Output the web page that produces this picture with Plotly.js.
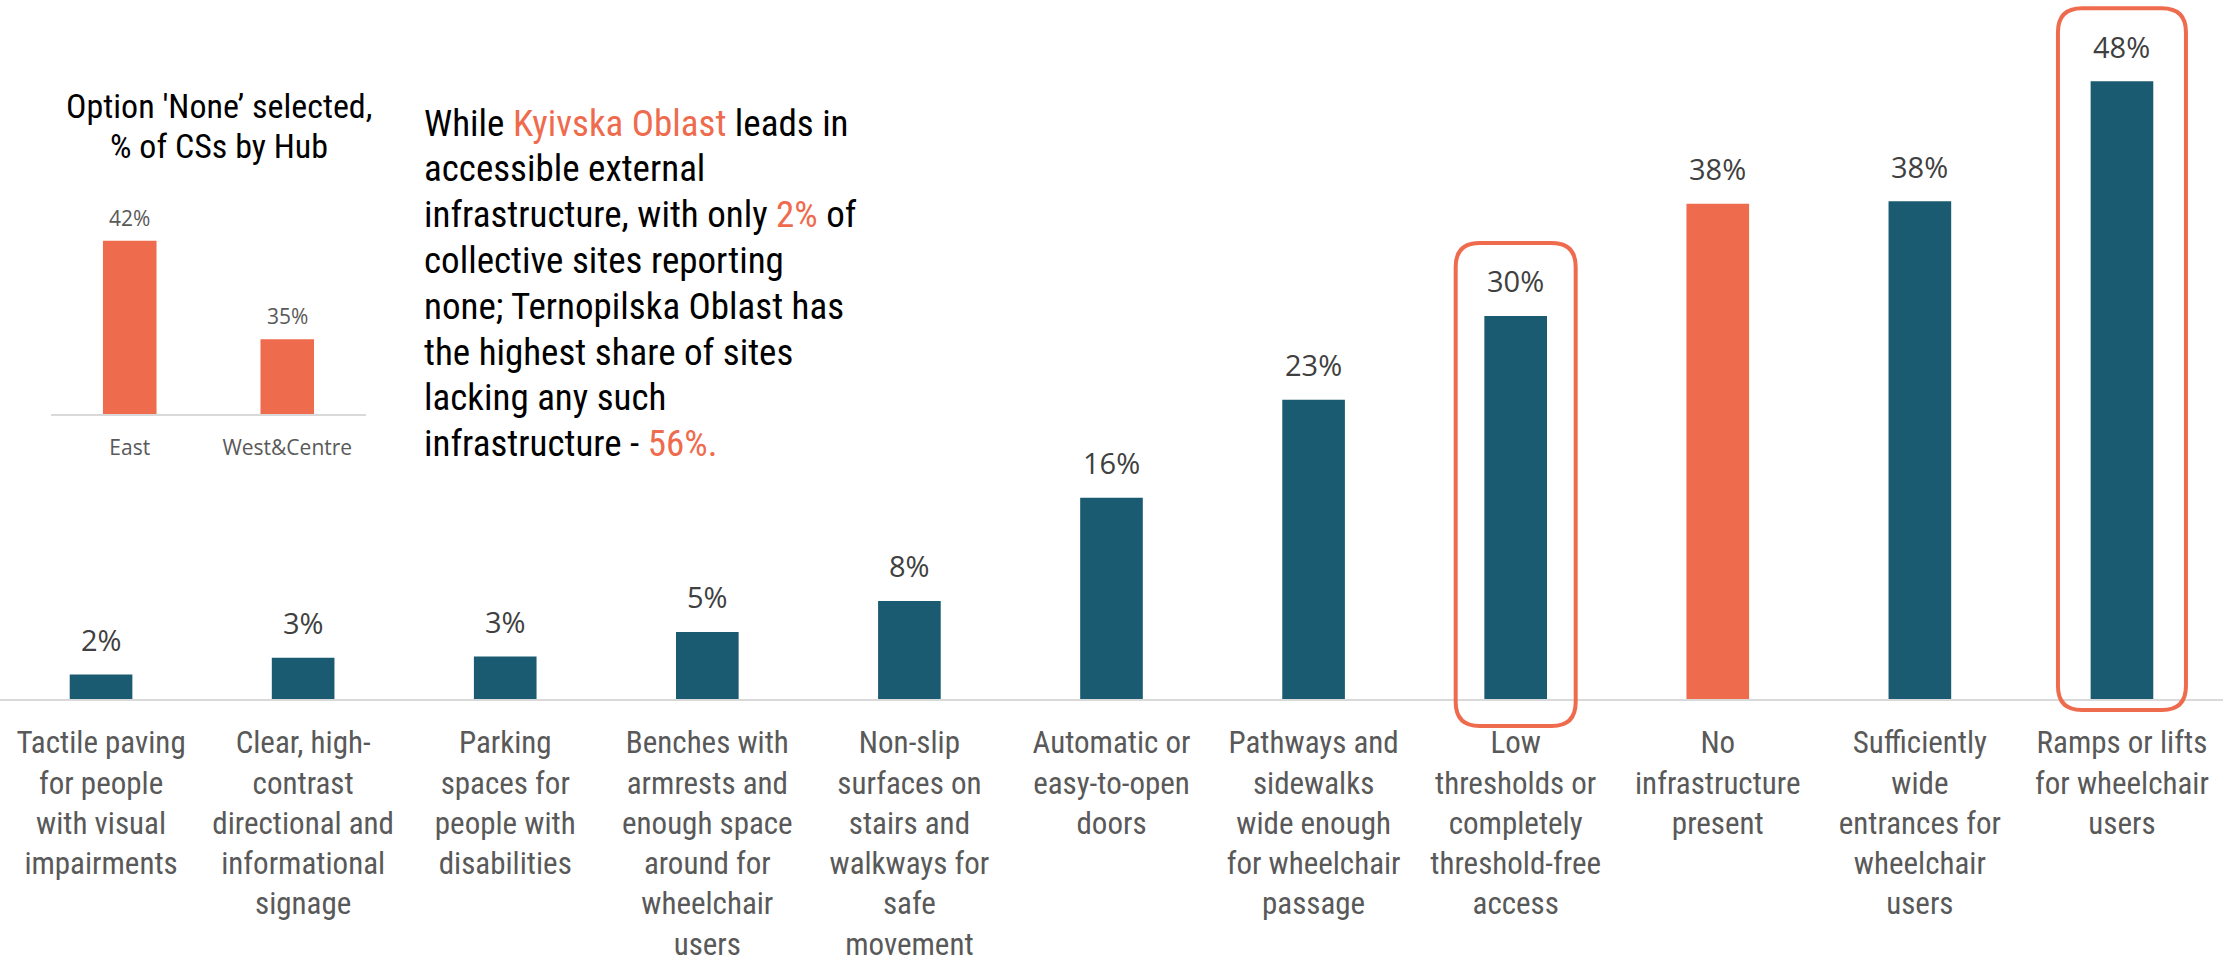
<!DOCTYPE html>
<html>
<head>
<meta charset="utf-8">
<script src="https://cdn.plot.ly/plotly-3.0.1.min.js"></script>
<style>
  html, body { margin: 0; padding: 0; background: #fff; }
  #chart { width: 2223px; height: 968px; }
</style>
</head>
<body>
<div id="chart"></div>
<script>
// ---------- DATA ----------
const categories = [
  "Tactile paving<br>for people<br>with visual<br>impairments",
  "Clear, high-<br>contrast<br>directional and<br>informational<br>signage",
  "Parking<br>spaces for<br>people with<br>disabilities",
  "Benches with<br>armrests and<br>enough space<br>around for<br>wheelchair<br>users",
  "Non-slip<br>surfaces on<br>stairs and<br>walkways for<br>safe<br>movement",
  "Automatic or<br>easy-to-open<br>doors",
  "Pathways and<br>sidewalks<br>wide enough<br>for wheelchair<br>passage",
  "Low<br>thresholds or<br>completely<br>threshold-free<br>access",
  "No<br>infrastructure<br>present",
  "Sufficiently<br>wide<br>entrances for<br>wheelchair<br>users",
  "Ramps or lifts<br>for wheelchair<br>users"
];
const values = [1.9, 3.2, 3.3, 5.2, 7.6, 15.6, 23.2, 29.7, 38.4, 38.6, 47.9];
const valueLabels = ["2%", "3%", "3%", "5%", "8%", "16%", "23%", "30%", "38%", "38%", "48%"];
const orangeCategory = "No<br>infrastructure<br>present";
const boxedCategories = [
  "Low<br>thresholds or<br>completely<br>threshold-free<br>access",
  "Ramps or lifts<br>for wheelchair<br>users"
];

const hubCategories = ["East", "West&Centre"];
const hubValues = [42, 35];
const hubLabels = ["42%", "35%"];

const insetTitleLines = ["Option 'None’ selected,", "% of CSs by Hub"];
const ORANGE = "#EE6B4D";
const hl = t => `<span style="color:${ORANGE}">${t}</span>`;
const commentaryLines = [
  `While ${hl("Kyivska Oblast")} leads in`,
  "accessible external",
  `infrastructure, with only ${hl("2%")} of`,
  "collective sites reporting",
  "none; Ternopilska Oblast has",
  "the highest share of sites",
  "lacking any such",
  `infrastructure - ${hl("56%.")}`
];

// ---------- STYLE ----------
const TEAL = "#1B5B71";
const GREY = "#595959";
const LABEL = "#404040";
const COND = "Roboto Condensed, Liberation Sans Narrow, DejaVu Sans Condensed, Roboto, sans-serif";
const SEGOE = "Segoe UI, Open Sans, sans-serif";

const W = 2223, H = 968;
const marginB = 269;
const plotH = H - marginB;
const yMax = 54.2;

const idx = categories.map((c, i) => i);
const barColors = categories.map(c => c === orangeCategory ? ORANGE : TEAL);

const mainBars = {
  type: "bar",
  x: idx,
  y: values,
  marker: { color: barColors },
  xaxis: "x",
  yaxis: "y",
  hoverinfo: "skip",
  showlegend: false
};

const hubBars = {
  type: "bar",
  x: hubCategories,
  y: hubValues,
  width: 0.34,
  marker: { color: ORANGE },
  xaxis: "x2",
  yaxis: "y2",
  hoverinfo: "skip",
  showlegend: false
};

const pyFromPix = p => (plotH - p) / plotH;   // pixel row -> paper y

// Data labels
const annotations = [];
idx.forEach(i => {
  annotations.push({
    x: i, y: values[i], xref: "x", yref: "y",
    text: valueLabels[i], showarrow: false,
    yanchor: "middle", yshift: 35,
    font: { family: SEGOE, size: 29, color: LABEL }
  });
});
hubCategories.forEach((c, i) => {
  annotations.push({
    x: c, y: hubValues[i], xref: "x2", yref: "y2",
    text: hubLabels[i], showarrow: false,
    yanchor: "middle", yshift: 23,
    font: { family: SEGOE, size: 21, color: GREY }
  });
});

// Inset title (one annotation per line for exact spacing)
insetTitleLines.forEach((t, k) => {
  annotations.push({
    xref: "paper", yref: "paper",
    x: 219 / W, y: pyFromPix(106 + k * 40),
    xanchor: "center", yanchor: "middle",
    text: t, showarrow: false,
    font: { family: COND, size: 34, color: "#000" }
  });
});

// Commentary text
commentaryLines.forEach((t, k) => {
  annotations.push({
    xref: "paper", yref: "paper",
    x: 422 / W, y: pyFromPix(123 + k * 45.8),
    xanchor: "left", yanchor: "middle", align: "left",
    showarrow: false, text: t,
    font: { family: COND, size: 37, color: "#000" }
  });
});

// Highlight boxes (rounded rectangles) around chosen bars
const nCat = categories.length;
const px = i => (i + 0.5) / nCat;
const py = v => v / yMax;
const pxPix = p => p / W;
const pyPix = p => p / plotH;
function roundedRect(x0, x1, y0, y1, r) {
  const rx = pxPix(r), ry = pyPix(r);
  return `M ${x0 + rx},${y1} L ${x1 - rx},${y1} Q ${x1},${y1} ${x1},${y1 - ry} ` +
         `L ${x1},${y0 + ry} Q ${x1},${y0} ${x1 - rx},${y0} ` +
         `L ${x0 + rx},${y0} Q ${x0},${y0} ${x0},${y0 + ry} ` +
         `L ${x0},${y1 - ry} Q ${x0},${y1} ${x0 + rx},${y1} Z`;
}
const boxSpecs = [
  { halfW: 60, below: 27 },
  { halfW: 64, below: 11 }
];
const shapes = boxedCategories.map((c, k) => {
  const i = categories.indexOf(c);
  const cx = px(i);
  const hw = pxPix(boxSpecs[k].halfW);
  const top = py(values[i]) + pyPix(73);
  const bottom = -pyPix(boxSpecs[k].below);
  return {
    type: "path", xref: "paper", yref: "paper",
    path: roundedRect(cx - hw, cx + hw, bottom, top, 24),
    line: { color: ORANGE, width: 4 },
    fillcolor: "rgba(0,0,0,0)"
  };
});

const layout = {
  width: W, height: H,
  margin: { l: 0, r: 0, t: 0, b: marginB, pad: 0 },
  paper_bgcolor: "#fff", plot_bgcolor: "rgba(0,0,0,0)",
  bargap: 0.69,
  showlegend: false,
  xaxis: {
    domain: [0, 1],
    range: [-0.5, nCat - 0.5],
    tickmode: "array", tickvals: idx, ticktext: categories,
    showgrid: false, zeroline: false, ticks: "",
    showline: true, linecolor: "#D9D9D9", linewidth: 2,
    tickfont: { family: COND, size: 31, color: GREY },
    ticklabelstandoff: 15,
    fixedrange: true
  },
  yaxis: {
    domain: [0, 1], range: [0, yMax],
    visible: false, showgrid: false, zeroline: false, fixedrange: true
  },
  xaxis2: {
    domain: [51 / W, 366 / W], anchor: "y2",
    showgrid: false, zeroline: false, ticks: "",
    showline: true, linecolor: "#D9D9D9", linewidth: 2,
    tickfont: { family: SEGOE, size: 21, color: GREY },
    ticklabelstandoff: 14,
    fixedrange: true
  },
  yaxis2: {
    domain: [(plotH - 414) / plotH, 0.70], anchor: "x2",
    range: [29.7, 44.2],
    visible: false, showgrid: false, zeroline: false, fixedrange: true
  },
  annotations: annotations,
  shapes: shapes
};

Plotly.newPlot("chart", [mainBars, hubBars], layout, { staticPlot: true, displayModeBar: false });
</script>
</body>
</html>
